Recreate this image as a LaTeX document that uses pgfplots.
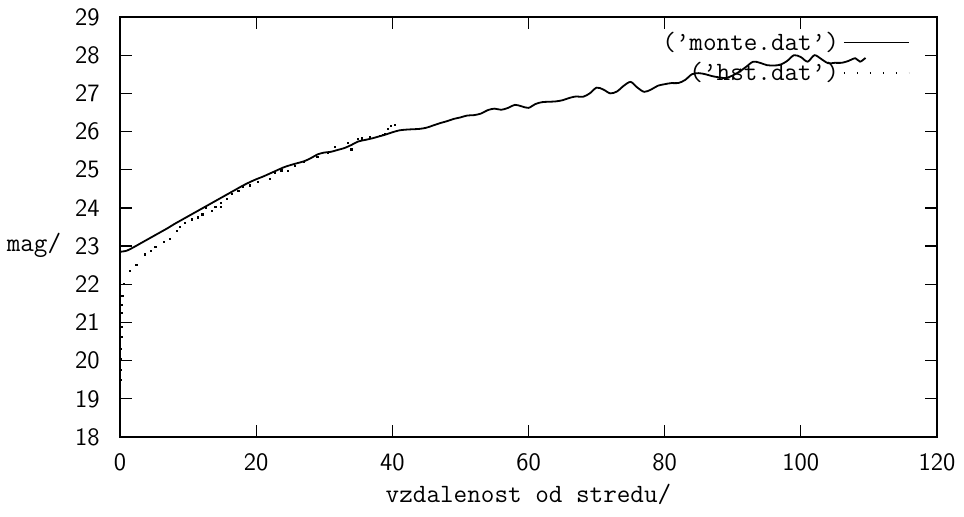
\documentclass[border=0pt]{standalone}
\usepackage{pgfplots}
\pgfplotsset{compat=1.18}
\usetikzlibrary{calc}
\begin{document}
\begin{tikzpicture}[font=\fontsize{12.5}{15}\selectfont]
\begin{axis}[
  scale only axis, width=408.5pt, height=210pt,
  xmin=0, xmax=120, ymin=18, ymax=29,
  xtick={0,20,...,120}, ytick={18,19,...,29},
  tick align=inside, major tick length=6pt,
  tick style={line width=0.6pt, black},
  axis line style={line width=0.75pt},
  ticklabel style={font=\fontsize{12.5}{15}\selectfont\sffamily},
  /pgf/number format/assume math mode=true,
  xticklabel style={anchor=center, yshift=-12.5pt},
  yticklabel style={anchor=east, inner sep=0pt, xshift=-10pt},
  xlabel={\fontsize{13.2}{15}\selectfont\ttfamily vzdalenost od stredu/},
  xlabel style={at={(rel axis cs:0.5,0)}, anchor=center, yshift=-28.5pt},
  ylabel={\fontsize{13.2}{15}\selectfont\ttfamily mag/},
  ylabel style={rotate=-90, at={(rel axis cs:0,0.457)}, anchor=center, xshift=-43pt},
  legend style={draw=none, fill=none, at={(rel axis cs:0.967,0.975)}, anchor=north east, font=\fontsize{13.2}{15}\selectfont\ttfamily, row sep=0.6pt, inner sep=0pt},
  legend cell align=right,
  legend plot pos=right,
  clip=false,
]
\addplot[black, line width=0.9pt, smooth, tension=0.5,
  legend image code/.code={\draw[black, line width=0.8pt] (0pt,0pt) -- (32.5pt,0pt);}]
coordinates {
(0,22.85) (1,22.88) (2,22.97) (3,23.07) (4,23.17) (5,23.27) (6,23.37) (7,23.47) (8,23.58)
(9,23.68) (10,23.78) (11,23.88) (12,23.98) (13,24.08) (14,24.18) (15,24.28) (16,24.38)
(17,24.48) (18,24.58) (19,24.67) (20,24.75) (21,24.82) (22,24.9) (23,24.98) (24,25.06)
(25,25.12) (26,25.17) (27,25.22) (28,25.3) (29,25.4) (30,25.45) (31,25.47) (32,25.52)
(33,25.57) (34,25.65) (35,25.74) (36,25.78) (37,25.82) (38,25.87) (39,25.92) (40,25.98)
(41,26.03) (42,26.05) (43,26.06) (44,26.07) (45,26.1) (46,26.16) (47,26.22) (48,26.27)
(49,26.33) (50,26.37) (51,26.42) (52,26.43) (53,26.47) (54,26.56) (55,26.6) (56,26.57)
(57,26.62) (58,26.7) (59,26.66) (60,26.62) (61,26.72) (62,26.77) (63,26.78) (64,26.79)
(65,26.82) (66,26.88) (67,26.92) (68,26.91) (69,27.0) (70,27.15) (71,27.1) (72,27.0)
(73,27.05) (74,27.2) (75,27.3) (76,27.15) (77,27.04) (78,27.1) (79,27.2) (80,27.24)
(81,27.27) (82,27.27) (83,27.35) (84,27.5) (85,27.53) (86,27.5) (87,27.45) (88,27.42)
(89,27.4) (90,27.47) (91,27.57) (92,27.7) (93,27.83) (94,27.8) (95,27.74) (96,27.73)
(97,27.75) (98,27.85) (99,28.0) (100,27.95) (101,27.83) (102,28.0) (103,27.9) (104,27.79)
(105,27.8) (106,27.8) (107,27.85) (108,27.92) (108.7,27.83) (109.5,27.93)
};
\addlegendentry{(’monte.dat’)}
\addplot[black, only marks, mark=square*, mark size=0.3pt,
  legend image code/.code={\draw[black, line width=0.7pt, dash pattern=on 0.7pt off 5.8pt] (0pt,0pt) -- (32.5pt,0pt);}]
coordinates {
(0,19.2) (0.05,19.5) (0.1,19.75) (0.1,20.05) (0.15,20.3) (0.2,20.63) (0.2,20.89)
(0.25,21.24) (0.3,21.45) (0.35,21.69) (0.6,22.0)
(1.5,22.36) (2.4,22.5) (3.6,22.78) (4.5,22.87) (5.2,22.98) (6.5,23.11) (7.3,23.19)
(8.3,23.4) (8.8,23.51) (9.5,23.61) (10.6,23.7) (11.4,23.75) (12.1,23.83) (12.6,23.99)
(13.5,23.93) (14.0,24.03) (14.8,24.02) (14.8,24.14) (15.7,24.23) (16.4,24.36) (17.4,24.44)
(18.1,24.54) (19.1,24.59) (20.2,24.68) (22.0,24.77) (22.8,24.91) (23.7,24.98) (24.7,24.97)
(25.7,25.1) (27.0,25.2) (29.0,25.33) (30.5,25.45) (31.6,25.6) (33.5,25.71) (34.0,25.53)
(35.0,25.8) (35.5,25.82) (36.7,25.85) (38.2,25.88) (38.7,25.91) (38.9,25.93) (39.4,26.06)
(39.8,26.14) (40.4,26.17)
};
\addlegendentry{(’hst.dat’)}
\coordinate (SW) at (rel axis cs:0,0);
\coordinate (NE) at (rel axis cs:1,1);
\end{axis}
\pgfresetboundingbox
\path[use as bounding box] ($(SW)+(-60pt,-39.5pt)$) rectangle ($(NE)+(13.5pt,8.5pt)$);
\end{tikzpicture}
\end{document}
